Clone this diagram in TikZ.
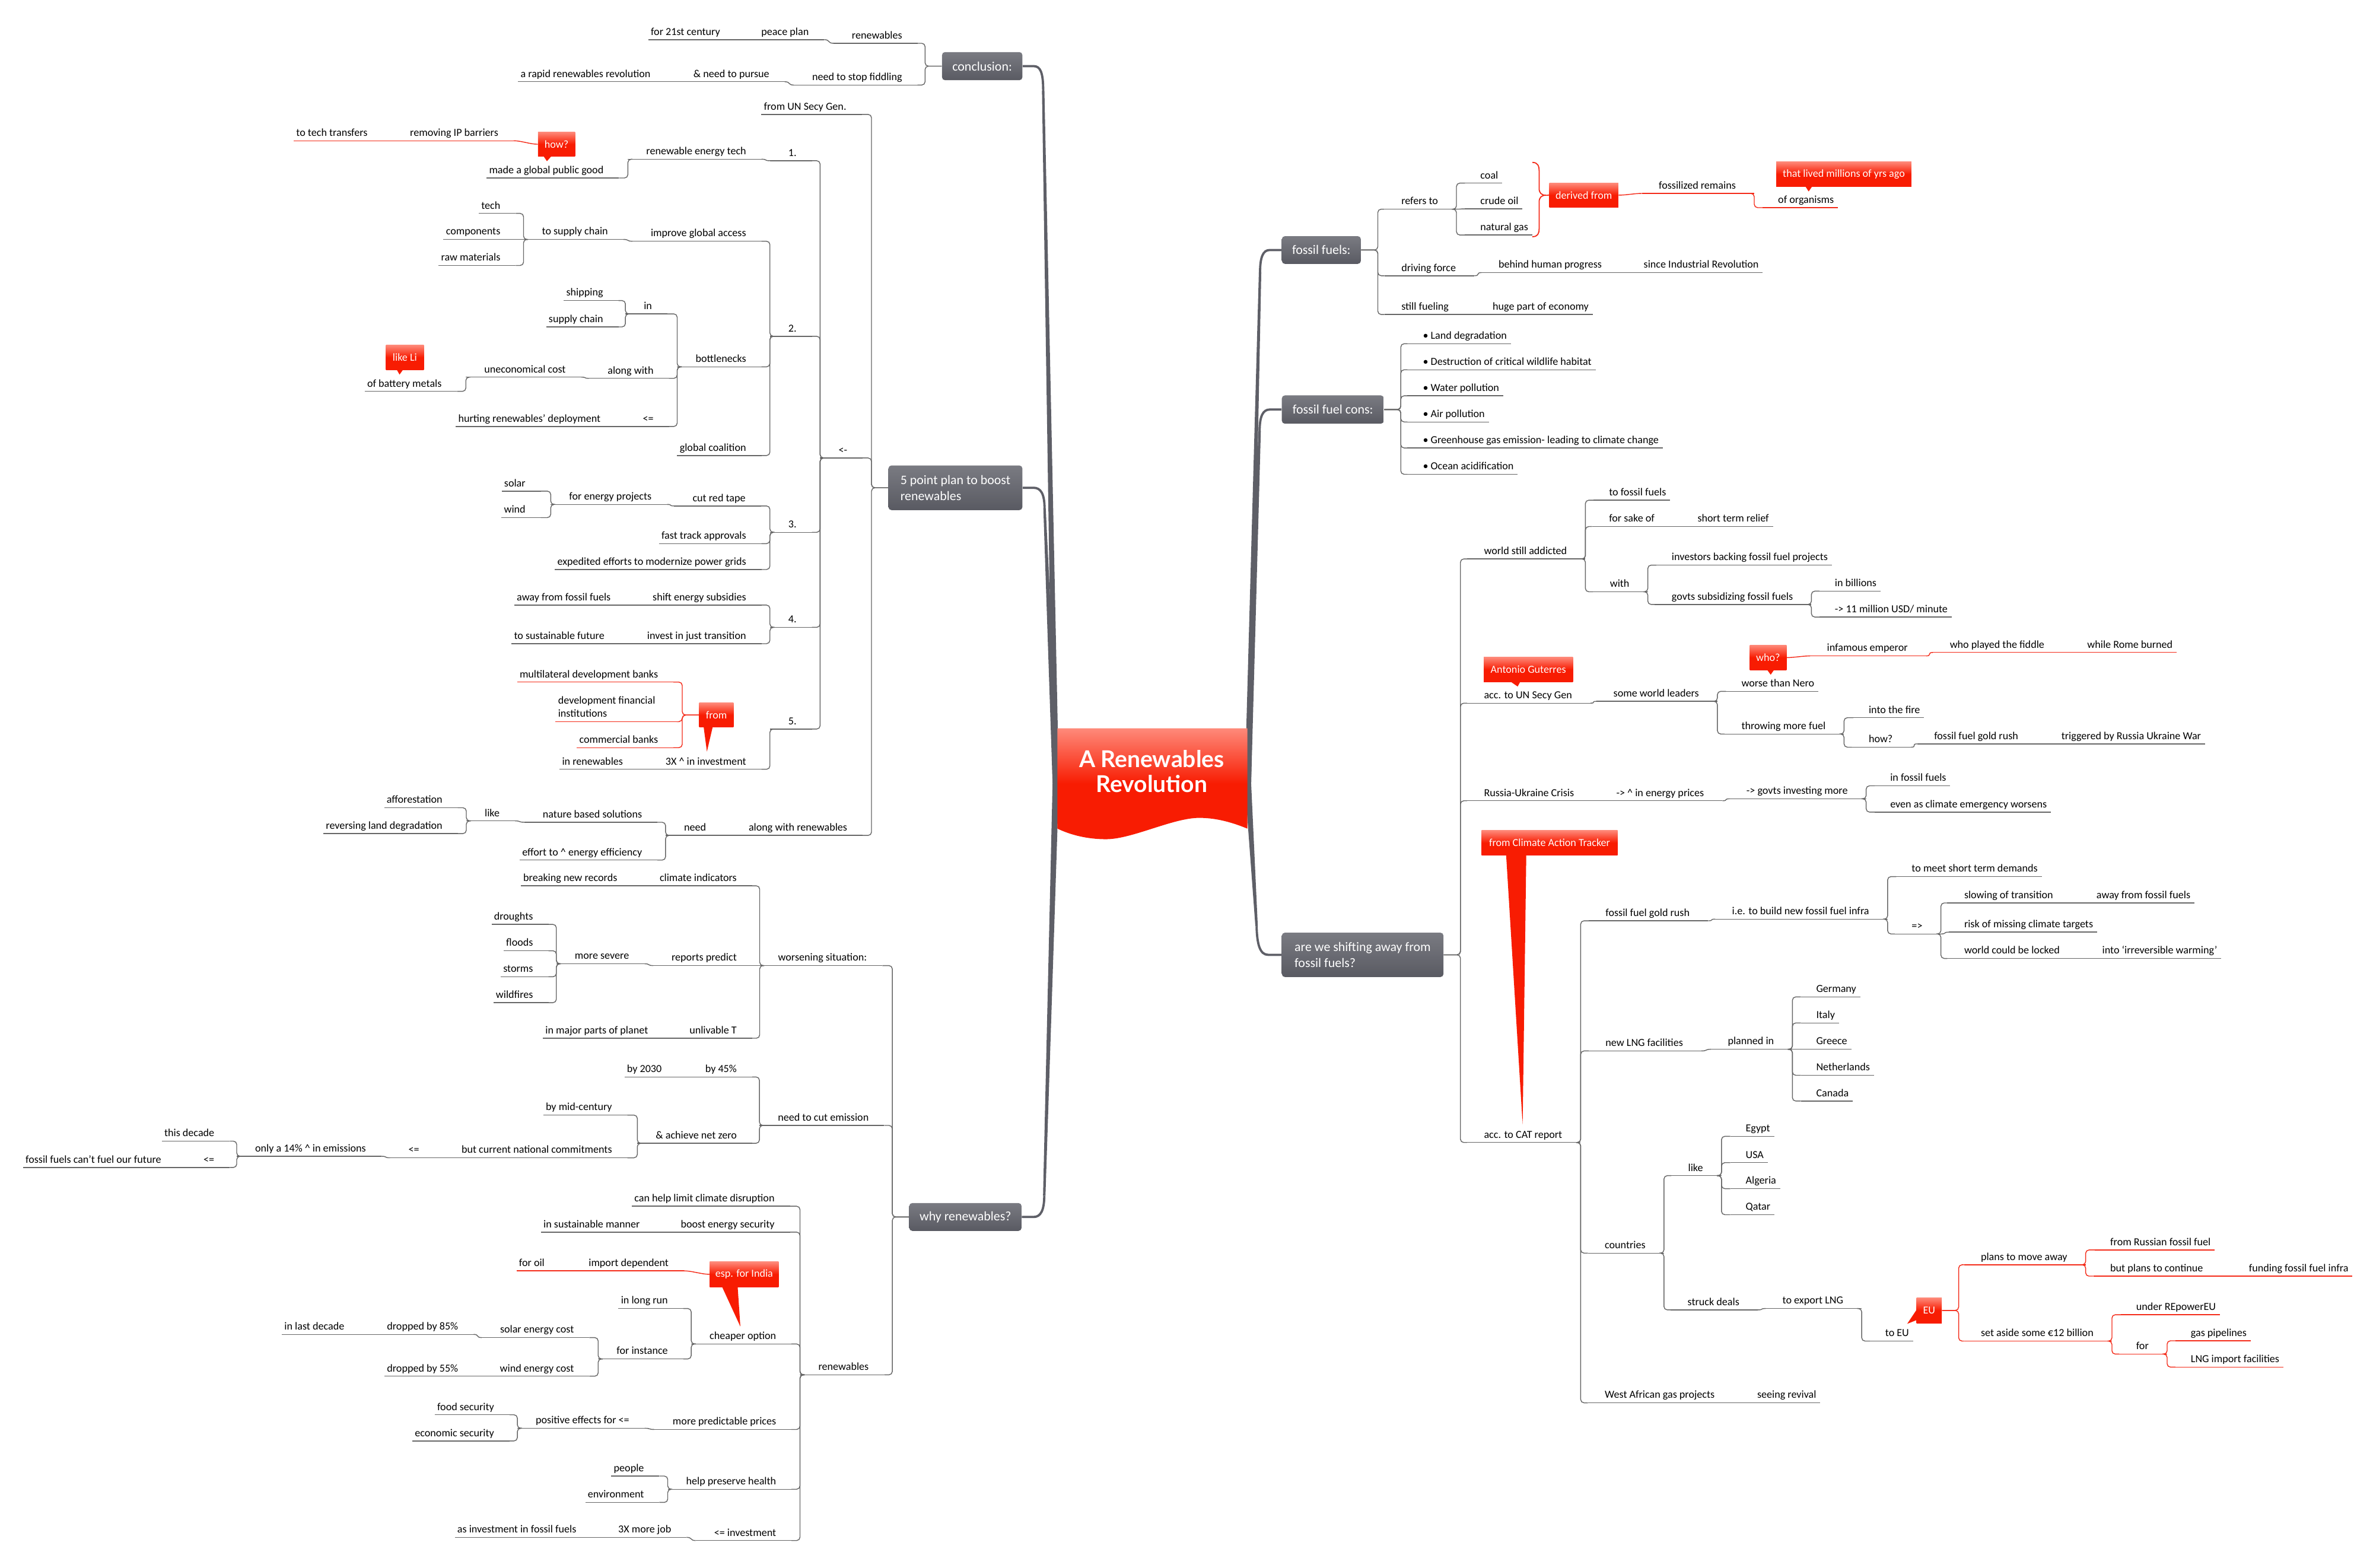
\documentclass[tikz,border=0pt]{standalone}
\usepackage{fontspec}
\setmainfont{Carlito}
\newfontfamily\titlefont{Lato}
\usetikzlibrary{calc}
\pgfdeclarelayer{bg}
\pgfsetlayers{bg,main}
\definecolor{lg}{HTML}{666666}
\definecolor{rd}{HTML}{F42A18}
\definecolor{trunkc}{HTML}{5E5F67}
\definecolor{boxtop}{HTML}{7A7B82}
\definecolor{boxbot}{HTML}{595A62}
\definecolor{redtop}{HTML}{FE8A7A}
\definecolor{redbot}{HTML}{F81C02}
\newcommand\fsz{\fontsize{7.1}{8.8}\selectfont}
\newcommand\fbx{\fontsize{8.6}{10.6}\selectfont}
\newcommand\lkL[3][lg]{\draw[cn,draw=#1] ($(#2.south west)+(3,0)$) -- (#2.south west) |- (#3.south east);}
\newcommand\lkLs[3][lg]{\draw[cn,draw=#1] (#2.south west) .. controls +(-4,0) and +(4,0) .. (#3.south east);}
\newcommand\lkR[3][lg]{\draw[cn,draw=#1] ($(#2.south east)+(-3,0)$) -- (#2.south east) |- (#3.south west);}
\newcommand\lkRs[3][lg]{\draw[cn,draw=#1] (#2.south east) .. controls +(4,0) and +(-4,0) .. (#3.south west);}
\newcommand\lkBL[3][lg]{\draw[cn,draw=#1] (#2.west) -- ++(-11,0) |- (#3.south east);}
\newcommand\lkBR[3][lg]{\draw[cn,draw=#1] (#2.east) -- ++(11,0) |- (#3.south west);}
\tikzset{
 base/.style={inner xsep=0pt, inner ysep=1.1pt, text height=5.1pt, text depth=1.7pt, font=\fsz},
 ul/.style={append after command={(\tikzlastnode.south west) edge[draw=#1,line width=.55pt] (\tikzlastnode.south east)}},
 ln/.style={base, anchor=south east, xshift=10pt, execute at begin node={\hspace*{12pt}}, execute at end node={\hspace*{10pt}}, ul=#1},
 ln/.default=lg,
 lf/.style={base, anchor=south east, xshift=10pt, execute at begin node={\hspace*{1.5pt}}, execute at end node={\hspace*{10pt}}, ul=#1},
 lf/.default=lg,
 rn/.style={base, anchor=south west, xshift=-11pt, execute at begin node={\hspace*{11pt}}, execute at end node={\hspace*{12pt}}, ul=#1},
 rn/.default=lg,
 rf/.style={base, anchor=south west, xshift=-10pt, execute at begin node={\hspace*{10pt}}, execute at end node={\hspace*{2.5pt}}, ul=#1},
 rf/.default=lg,
 cn/.style={line width=.55pt, rounded corners=2.2pt},
 mbox/.style={rounded corners=2pt, top color=boxtop, bottom color=boxbot, text=white, font=\fbx, inner xsep=6pt, inner ysep=0pt, align=left},
 co/.style={inner sep=0pt, top color=redtop, bottom color=redbot, middle color=redbot, text=white, font=\fsz},
 trk/.style={draw=trunkc, line width=1.5pt},
}
\begin{document}
\begin{tikzpicture}[x=1pt,y=-1pt]
\useasboundingbox (0,0) rectangle (1568,1035.7);
\begin{pgfonlayer}{bg}
\fill[white] (0,0) rectangle (1568,1035.7);
\end{pgfonlayer}

% ---------- main boxes ----------
\node[mbox, minimum width=53.1pt, minimum height=18.6pt] (bconc) at (649,43.7) {conclusion:};
\node[mbox, minimum width=88.5pt, minimum height=29.5pt] (b5) at (631.3,322.3) {5 point plan to boost\\renewables};
\node[mbox, minimum width=74.2pt, minimum height=18.4pt] (bwhy) at (637.9,804.1) {why renewables?};
\node[mbox, minimum width=52.2pt, minimum height=18.3pt] (bff) at (873.1,165.2) {fossil fuels:};
\node[mbox, minimum width=67.4pt, minimum height=18.7pt] (bcons) at (880.7,270.6) {fossil fuel cons:};
\node[mbox, minimum width=106.8pt, minimum height=29.3pt] (bshift) at (900.4,630.9) {are we shifting away from\\fossil fuels?};

% ---------- trunks ----------
\coordinate (cL) at (697.6,517.5);
\coordinate (cR) at (824.6,517.5);
\begin{pgfonlayer}{bg}
\draw[trk] (bconc.east) -- (683,43.7) .. controls (687.5,43.7) and (689.3,48) .. (689.3,60);
\fill[trunkc] (688.5,60) -- ($(cL)+(-2.1,0)$) -- ($(cL)+(2.1,0)$) -- (690.1,60) -- cycle;
\draw[trk] (b5.east) -- (683,322.3) .. controls (687.5,322.3) and (690.2,326) .. (690.2,336);
\fill[trunkc] (689.4,336) -- ($(cL)+(-2.1,0)$) -- ($(cL)+(2.1,0)$) -- (691,336) -- cycle;
\draw[trk] (bwhy.east) -- (683,804.1) .. controls (687.5,804.1) and (690,800) .. (690,790);
\fill[trunkc] (689.2,790) -- ($(cL)+(-2.1,0)$) -- ($(cL)+(2.1,0)$) -- (690.8,790) -- cycle;
\draw[trk] (bff.west) -- (839,165.2) .. controls (834.5,165.2) and (832.6,170) .. (832.6,180);
\fill[trunkc] (831.8,180) -- ($(cR)+(-2.1,0)$) -- ($(cR)+(2.1,0)$) -- (833.4,180) -- cycle;
\draw[trk] (bcons.west) -- (839,270.6) .. controls (834.5,270.6) and (832.3,275) .. (832.3,285);
\fill[trunkc] (831.5,285) -- ($(cR)+(-2.1,0)$) -- ($(cR)+(2.1,0)$) -- (833.1,285) -- cycle;
\draw[trk] (bshift.west) -- (838,630.9) .. controls (832.5,630.9) and (830.6,624) .. (830.3,612);
\fill[trunkc] (829.5,612) -- ($(cR)+(-2.1,0)$) -- ($(cR)+(2.1,0)$) -- (831.1,612) -- cycle;
\end{pgfonlayer}

% ---------- center ----------
\shade[top color=redtop, bottom color=redbot, middle color=redbot]
 (698.7,481.2) -- (824.2,481.2) -- (824.2,547.5)
 .. controls (812,542.5) and (802,540.4) .. (792.4,540.4)
 .. controls (775,540.4) and (748,554.5) .. (730.9,554.5)
 .. controls (718,554.5) and (707,551.5) .. (698.7,547.5) -- cycle;
\node[font=\titlefont\bfseries\fontsize{15.3}{18}\selectfont, text=white, anchor=base, inner sep=0pt] (t1) at (761,507) {A Renewables};
\node[font=\titlefont\bfseries\fontsize{15.3}{18}\selectfont, text=white, anchor=base, inner sep=0pt] (t2) at (761,523.5) {Revolution};

% ---------- conclusion ----------
\node[ln] (c1) at (596.3,28.6) {renewables};
\node[ln] (c1a) at (534.6,26.2) {peace plan};
\node[lf] (c1b) at (476,26.2) {for 21st century};
\node[ln] (c2) at (596.3,56.2) {need to stop fiddling};
\node[ln] (c2a) at (508.5,54) {\& need to pursue};
\node[lf] (c2b) at (430,54) {a rapid renewables revolution};

% ---------- 5 point plan ----------
\node[lf] (p0) at (559.4,75.6) {from UN Secy Gen.};
\node[ln] (p1) at (560,302.6) {<-};
\node[ln] (p2) at (560,552) {along with renewables};
\node[ln] (n1) at (526.5,106.2) {1.};
\node[ln] (n1a) at (493.2,105.2) {renewable energy tech};
\node[lf] (n1b) at (399,117.6) {made a global public good};
\node[ln=rd] (n1c) at (329.4,93) {removing IP barriers};
\node[lf=rd] (n1d) at (243,93) {to tech transfers};
\node[ln] (n2) at (526.5,222.2) {2.};
\node[ln] (n2a) at (493.2,159.4) {improve global access};
\node[ln] (n2b) at (401.9,158.2) {to supply chain};
\node[lf] (n2c) at (330.8,141) {tech};
\node[lf] (n2d) at (330.8,158.2) {components};
\node[lf] (n2e) at (330.8,175.4) {raw materials};
\node[ln] (n2f) at (493.2,242.4) {bottlenecks};
\node[ln] (n2g) at (431,207.4) {in};
\node[lf] (n2h) at (398.7,198.6) {shipping};
\node[lf] (n2i) at (398.7,216) {supply chain};
\node[ln] (n2j) at (432,250) {along with};
\node[ln] (n2k) at (374,249.2) {uneconomical cost};
\node[lf] (n2l) at (292,258.6) {of battery metals};
\node[ln] (n2m) at (432,281.8) {<=};
\node[lf] (n2n) at (397,281.8) {hurting renewables' deployment};
\node[lf] (n2o) at (493.2,301) {global coalition};
\node[ln] (n3) at (526.5,351.7) {3.};
\node[ln] (n3a) at (492.8,334.3) {cut red tape};
\node[ln] (n3b) at (430.7,333.3) {for energy projects};
\node[lf] (n3c) at (347.4,324.5) {solar};
\node[lf] (n3d) at (347.4,342) {wind};
\node[lf] (n3e) at (493.2,359.2) {fast track approvals};
\node[lf] (n3f) at (493.2,376.3) {expedited efforts to modernize power grids};
\node[ln] (n4) at (526.5,414.5) {4.};
\node[ln] (n4a) at (493.2,399.8) {shift energy subsidies};
\node[lf] (n4b) at (403.7,399.8) {away from fossil fuels};
\node[ln] (n4c) at (493.2,425.3) {invest in just transition};
\node[lf] (n4d) at (399.6,425.3) {to sustainable future};
\node[ln] (n5) at (526.5,481.7) {5.};
\node[ln] (n5a) at (493.2,508.3) {3X \textasciicircum{} in investment};
\node[lf] (n5b) at (411.8,508.3) {in renewables};
\node[lf=rd] (n5c) at (435,450.7) {multilateral development banks};
\node[lf=rd] (n5d) at (439,476.8) {\parbox[b]{70pt}{\raggedright\fsz development financial\\institutions}};
\node[lf=rd] (n5e) at (435,494) {commercial banks};
\node[ln] (p2a) at (466.7,552) {need};
\node[ln] (p2b) at (424.4,543.3) {nature based solutions};
\node[ln] (p2c) at (330.3,542.4) {like};
\node[lf] (p2d) at (292.5,533.7) {afforestation};
\node[lf] (p2e) at (292.5,550.8) {reversing land degradation};
\node[lf] (p2f) at (424.4,568.3) {effort to \textasciicircum{} energy efficiency};

% ---------- why renewables ----------
\node[ln] (w1) at (573,638) {worsening situation:};
\node[ln] (w1a) at (487,585.3) {climate indicators};
\node[lf] (w1b) at (408,585.3) {breaking new records};
\node[ln] (w1c) at (487,638) {reports predict};
\node[ln] (w1d) at (415.8,636.8) {more severe};
\node[lf] (w1e) at (352.4,610.8) {droughts};
\node[lf] (w1f) at (352.4,628.2) {floods};
\node[lf] (w1g) at (352.4,645.4) {storms};
\node[lf] (w1h) at (352.4,662.5) {wildfires};
\node[ln] (w1i) at (487,686) {unlivable T};
\node[lf] (w1j) at (428.4,686) {in major parts of planet};
\node[ln] (w2) at (574.2,743.6) {need to cut emission};
\node[ln] (w2a) at (487,711.6) {by 45\%};
\node[lf] (w2b) at (437.4,711.6) {by 2030};
\node[ln] (w2c) at (487,755.4) {\& achieve net zero};
\node[lf] (w2d) at (404.6,736.8) {by mid-century};
\node[ln] (w2e) at (404.6,765) {but current national commitments};
\node[ln] (w2f) at (277.2,765) {<=};
\node[ln] (w2g) at (242,764) {only a 14\% \textasciicircum{} in emissions};
\node[lf] (w2h) at (141.8,754) {this decade};
\node[ln] (w2i) at (141.8,771.4) {<=};
\node[lf] (w2j) at (106.7,771.4) {fossil fuels can't fuel our future};
\node[ln] (w3) at (574.2,908.4) {renewables};
\node[lf] (w3a) at (512,797) {can help limit climate disruption};
\node[ln] (w3b) at (512,814.1) {boost energy security};
\node[lf] (w3c) at (423,814.1) {in sustainable manner};
\node[ln] (w3d) at (513,888) {cheaper option};
\node[ln=rd] (w3e) at (442,839.7) {import dependent};
\node[lf=rd] (w3f) at (360,839.7) {for oil};
\node[lf] (w3g) at (441.5,864.6) {in long run};
\node[ln] (w3h) at (441.5,897.9) {for instance};
\node[ln] (w3i) at (379.4,883.8) {solar energy cost};
\node[ln] (w3j) at (302.9,881.7) {dropped by 85\%};
\node[lf] (w3k) at (227.7,881.7) {in last decade};
\node[ln] (w3l) at (379.4,909.3) {wind energy cost};
\node[lf] (w3m) at (302.9,909.3) {dropped by 55\%};
\node[ln] (w3n) at (513,944.5) {more predictable prices};
\node[ln] (w3o) at (416,943.7) {positive effects for <=};
\node[lf] (w3p) at (326.7,934.8) {food security};
\node[lf] (w3q) at (326.7,952.1) {economic security};
\node[ln] (w3r) at (513,984) {help preserve health};
\node[lf] (w3s) at (425.7,975.3) {people};
\node[lf] (w3t) at (425.7,992.7) {environment};
\node[ln] (w3u) at (513,1017.9) {<= investment};
\node[ln] (w3v) at (443.7,1015.8) {3X more job};
\node[lf] (w3w) at (381,1015.8) {as investment in fossil fuels};

% ---------- fossil fuels ----------
\node[rn] (f1) at (925.8,138.2) {refers to};
\node[rf] (f1a) at (978,121) {coal};
\node[rf] (f1b) at (978,138) {crude oil};
\node[rf] (f1c) at (978,155.3) {natural gas};
\node[rn=rd] (f1d) at (1095.9,127.8) {fossilized remains};
\node[rf=rd] (f1e) at (1174.7,137.2) {of organisms};
\node[rn] (f2) at (925.8,182.2) {driving force};
\node[rn] (f2a) at (990,180.1) {behind human progress};
\node[rf] (f2b) at (1085.9,180.1) {since Industrial Revolution};
\node[rn] (f3) at (925.8,207.8) {still fueling};
\node[rf] (f3a) at (986.1,207.8) {huge part of economy};

% ---------- fossil fuel cons ----------
\node[rf] (g1) at (940,227.1) {• Land degradation};
\node[rf] (g2) at (940,244.3) {• Destruction of critical wildlife habitat};
\node[rf] (g3) at (940,261.5) {• Water pollution};
\node[rf] (g4) at (940,278.8) {• Air pollution};
\node[rf] (g5) at (940,296) {• Greenhouse gas emission- leading to climate change};
\node[rf] (g6) at (940,313.4) {• Ocean acidification};

% ---------- are we shifting ----------
\node[rn] (s1) at (980.4,369.3) {world still addicted};
\node[rf] (s1a) at (1063,330.5) {to fossil fuels};
\node[rn] (s1b) at (1063,347.9) {for sake of};
\node[rf] (s1c) at (1121.5,347.9) {short term relief};
\node[rn] (s1d) at (1063.6,391) {with};
\node[rf] (s1e) at (1104.4,373.4) {investors backing fossil fuel projects};
\node[rn] (s1f) at (1104.4,399.4) {govts subsidizing fossil fuels};
\node[rf] (s1g) at (1212.2,390.6) {in billions};
\node[rf] (s1h) at (1212.2,407.7) {-> 11 million USD/ minute};
\node[rn] (s2) at (980.4,464.6) {acc. to UN Secy Gen};
\node[rn] (s2a) at (1065.9,463.4) {some world leaders};
\node[rf] (s2b) at (1150.5,456.8) {worse than Nero};
\node[rn=rd] (s2c) at (1207,433.4) {infamous emperor};
\node[rn=rd] (s2d) at (1288.2,431.1) {who played the fiddle};
\node[rf=rd] (s2e) at (1379,431.1) {while Rome burned};
\node[rn] (s2f) at (1150.5,485) {throwing more fuel};
\node[rf] (s2g) at (1234.6,474.2) {into the fire};
\node[rn] (s2h) at (1234.6,493.7) {how?};
\node[rn] (s2i) at (1277.8,491.5) {fossil fuel gold rush};
\node[rf] (s2j) at (1361.9,491.5) {triggered by Russia Ukraine War};
\node[rn] (s3) at (980.4,529.1) {Russia-Ukraine Crisis};
\node[rn] (s3a) at (1067.8,529.1) {-> \textasciicircum{} in energy prices};
\node[rn] (s3b) at (1153.8,527.8) {-> govts investing more};
\node[rf] (s3c) at (1248.8,519.2) {in fossil fuels};
\node[rf] (s3d) at (1248.8,536.6) {even as climate emergency worsens};
\node[rn] (s4) at (980.4,754.9) {acc. to CAT report};
\node[rn] (s4a) at (1060.7,608.4) {fossil fuel gold rush};
\node[rn] (s4b) at (1144.3,607.3) {i.e. to build new fossil fuel infra};
\node[rf] (s4c) at (1263,579.2) {to meet short term demands};
\node[rn] (s4d) at (1263,617.1) {=>};
\node[rn] (s4e) at (1297.7,596.6) {slowing of transition};
\node[rf] (s4f) at (1385.1,596.6) {away from fossil fuels};
\node[rf] (s4g) at (1297.7,615.9) {risk of missing climate targets};
\node[rn] (s4h) at (1297.7,633.3) {world could be locked};
\node[rf] (s4i) at (1388.9,633.3) {into `irreversible warming'};
\node[rn] (s4j) at (1060.7,694.4) {new LNG facilities};
\node[rn] (s4k) at (1141.5,693.3) {planned in};
\node[rf] (s4l) at (1199.9,658.7) {Germany};
\node[rf] (s4m) at (1199.9,675.9) {Italy};
\node[rf] (s4n) at (1199.9,693.3) {Greece};
\node[rf] (s4o) at (1199.9,710.5) {Netherlands};
\node[rf] (s4p) at (1199.9,727.5) {Canada};
\node[rn] (s4q) at (1060.2,828) {countries};
\node[rn] (s4r) at (1115.3,776.8) {like};
\node[rf] (s4s) at (1153.3,750.8) {Egypt};
\node[rf] (s4t) at (1153.3,768.2) {USA};
\node[rf] (s4u) at (1153.3,785.4) {Algeria};
\node[rf] (s4v) at (1153.3,802.6) {Qatar};
\node[rn] (s4w) at (1114.9,865.5) {struck deals};
\node[rn] (s4x) at (1177.6,864.6) {to export LNG};
\node[rf] (s4y) at (1245.5,886.1) {to EU};
\node[rn=rd] (s4z) at (1308.7,835.7) {plans to move away};
\node[rf=rd] (s4z1) at (1394.2,825.9) {from Russian fossil fuel};
\node[rn=rd] (s4z2) at (1394.2,843.2) {but plans to continue};
\node[rf=rd] (s4z3) at (1485.8,843.2) {funding fossil fuel infra};
\node[rn=rd] (s4z4) at (1308.7,886.1) {set aside some €12 billion};
\node[rf=rd] (s4z5) at (1411.3,868.7) {under REpowerEU};
\node[rn=rd] (s4z6) at (1411.3,894.7) {for};
\node[rf=rd] (s4z7) at (1447.4,885.9) {gas pipelines};
\node[rf=rd] (s4z8) at (1447.4,903.3) {LNG import facilities};
\node[rn] (s5) at (1060.2,926.9) {West African gas projects};
\node[rf] (s5a) at (1160.9,926.9) {seeing revival};

% ---------- callouts (tails first) ----------
\fill[redbot] (359,103) -- (361.4,106.5) -- (364.5,103) -- cycle;
\fill[redbot] (262,244) -- (264,247.5) -- (266.5,244) -- cycle;
\fill[redbot] (464.9,480) -- (467.1,496.6) -- (471,480) -- cycle;
\fill[redbot] (477,850) -- (489.2,876.5) -- (487.4,850) -- cycle;
\fill[redbot] (1192.8,123) -- (1195.1,126.5) -- (1197.5,123) -- cycle;
\fill[redbot] (1167.6,442.5) -- (1170,445.8) -- (1172.3,442.5) -- cycle;
\fill[redbot] (998,450.3) -- (1002.8,453.6) -- (1004.6,450.3) -- cycle;
\fill[redbot] (995.2,565) -- (1006.1,743) -- (1008.5,565) -- cycle;
\fill[redbot] (1268,863) -- (1260.2,874.7) -- (1267,872) -- cycle;
\node[co, minimum width=24.5pt, minimum height=16.2pt] (how) at (367.75,95.3) {how?};
\node[co, minimum width=25pt, minimum height=16.4pt] (li) at (267.5,236.2) {like Li};
\node[co, minimum width=22.7pt, minimum height=16.1pt] (fromc) at (473.35,472.45) {from};
\node[co, minimum width=45.4pt, minimum height=16.6pt] (esp) at (491.7,842) {esp. for India};
\node[co, minimum width=45.6pt, minimum height=15.9pt] (derived) at (1046.5,128.95) {derived from};
\node[co, minimum width=89.3pt, minimum height=16.6pt] (lived) at (1218.35,115.1) {that lived millions of yrs ago};
\node[co, minimum width=24.2pt, minimum height=16.6pt] (who) at (1168.3,434.5) {who?};
\node[co, minimum width=58.9pt, minimum height=16.4pt] (ag) at (1009.85,442.4) {Antonio Guterres};
\node[co, minimum width=89.8pt, minimum height=16.6pt] (cat) at (1023.9,556.9) {from Climate Action Tracker};
\node[co, minimum width=16.6pt, minimum height=16.7pt] (eu) at (1274.7,865.85) {EU};

% summary brace
\draw[rd, line width=.7pt] (1012.5,107.3) .. controls (1016,107.3) and (1017,109.5) .. (1017,113) -- (1017,124.5) .. controls (1017,127.5) and (1018.5,129) .. (1021.5,129) .. controls (1018.5,129) and (1017,130.5) .. (1017,133.5) -- (1017,151) .. controls (1017,154.5) and (1016,156.4) .. (1012.5,156.4);
\draw[rd, line width=.6pt] (1021.5,129) -- (derived.west);

% ---------- connectors: left ----------
\lkBL{bconc}{c1} \lkBL{bconc}{c2}
\lkLs{c1}{c1a} \lkLs{c1a}{c1b} \lkLs{c2}{c2a} \lkLs{c2a}{c2b}
\lkBL{b5}{p0} \lkBL{b5}{p1} \lkBL{b5}{p2}
\lkL{p1}{n1} \lkL{p1}{n2} \lkL{p1}{n3} \lkL{p1}{n4} \lkL{p1}{n5}
\lkLs{n1}{n1a} \lkL{n1a}{n1b}
\draw[cn,draw=rd] (how.west) .. controls +(-5,0) and +(5,0) .. (n1c.south east);
\lkLs[rd]{n1c}{n1d}
\lkL{n2}{n2a} \lkL{n2}{n2f} \lkL{n2}{n2o}
\lkLs{n2a}{n2b}
\lkL{n2b}{n2c} \lkLs{n2b}{n2d} \lkL{n2b}{n2e}
\lkL{n2f}{n2g} \lkL{n2f}{n2j} \lkL{n2f}{n2m}
\lkL{n2g}{n2h} \lkL{n2g}{n2i}
\lkLs{n2j}{n2k} \lkL{n2k}{n2l} \lkLs{n2m}{n2n}
\lkL{n3}{n3a} \lkL{n3}{n3e} \lkL{n3}{n3f}
\lkLs{n3a}{n3b} \lkL{n3b}{n3c} \lkL{n3b}{n3d}
\lkL{n4}{n4a} \lkL{n4}{n4c} \lkLs{n4a}{n4b} \lkLs{n4c}{n4d}
\lkL{n5}{n5a} \lkLs{n5a}{n5b}
\lkBL[rd]{fromc}{n5c} \lkBL[rd]{fromc}{n5d} \lkBL[rd]{fromc}{n5e}
\lkLs{p2}{p2a} \lkL{p2a}{p2b} \lkL{p2a}{p2f} \lkLs{p2b}{p2c} \lkL{p2c}{p2d} \lkL{p2c}{p2e}
\lkBL{bwhy}{w1} \lkBL{bwhy}{w2} \lkBL{bwhy}{w3}
\lkL{w1}{w1a} \lkLs{w1}{w1c} \lkL{w1}{w1i}
\lkLs{w1a}{w1b} \lkLs{w1c}{w1d}
\lkL{w1d}{w1e} \lkL{w1d}{w1f} \lkL{w1d}{w1g} \lkL{w1d}{w1h}
\lkLs{w1i}{w1j}
\lkL{w2}{w2a} \lkL{w2}{w2c} \lkLs{w2a}{w2b} \lkL{w2c}{w2d} \lkL{w2c}{w2e}
\lkLs{w2e}{w2f} \lkLs{w2f}{w2g} \lkL{w2g}{w2h} \lkL{w2g}{w2i} \lkLs{w2i}{w2j}
\lkL{w3}{w3a} \lkL{w3}{w3b} \lkL{w3}{w3d} \lkL{w3}{w3n} \lkL{w3}{w3r} \lkL{w3}{w3u}
\lkLs{w3b}{w3c}
\draw[cn,draw=rd] (esp.west) .. controls +(-5,0) and +(5,0) .. (w3e.south east);
\lkLs[rd]{w3e}{w3f}
\lkL{w3d}{w3g} \lkL{w3d}{w3h} \lkL{w3h}{w3i} \lkL{w3h}{w3l}
\lkLs{w3i}{w3j} \lkLs{w3j}{w3k} \lkLs{w3l}{w3m}
\lkLs{w3n}{w3o} \lkL{w3o}{w3p} \lkL{w3o}{w3q}
\lkL{w3r}{w3s} \lkL{w3r}{w3t}
\lkLs{w3u}{w3v} \lkLs{w3v}{w3w}

% ---------- connectors: right ----------
\lkBR{bff}{f1} \lkBR{bff}{f2} \lkBR{bff}{f3}
\lkR{f1}{f1a} \lkRs{f1}{f1b} \lkR{f1}{f1c}
\draw[cn,draw=rd] (derived.east) .. controls +(5,0) and +(-5,0) .. (f1d.south west);
\lkR[rd]{f1d}{f1e}
\lkRs{f2}{f2a} \lkRs{f2a}{f2b} \lkRs{f3}{f3a}
\lkBR{bcons}{g1} \lkBR{bcons}{g2} \lkBR{bcons}{g3} \lkBR{bcons}{g4} \lkBR{bcons}{g5} \lkBR{bcons}{g6}
\lkBR{bshift}{s1} \lkBR{bshift}{s2} \lkBR{bshift}{s3} \lkBR{bshift}{s4}
\lkR{s1}{s1a} \lkR{s1}{s1b} \lkR{s1}{s1d} \lkRs{s1b}{s1c}
\lkR{s1d}{s1e} \lkR{s1d}{s1f} \lkR{s1f}{s1g} \lkR{s1f}{s1h}
\lkRs{s2}{s2a} \lkR{s2a}{s2b} \lkR{s2a}{s2f}
\draw[cn,draw=rd] (who.east) .. controls +(5,0) and +(-5,0) .. (s2c.south west);
\lkRs[rd]{s2c}{s2d} \lkRs[rd]{s2d}{s2e}
\lkR{s2f}{s2g} \lkR{s2f}{s2h} \lkRs{s2h}{s2i} \lkRs{s2i}{s2j}
\lkRs{s3}{s3a} \lkRs{s3a}{s3b} \lkR{s3b}{s3c} \lkR{s3b}{s3d}
\lkR{s4}{s4a} \lkR{s4}{s4j} \lkR{s4}{s4q} \lkR{s4}{s5}
\lkRs{s4a}{s4b} \lkR{s4b}{s4c} \lkR{s4b}{s4d}
\lkR{s4d}{s4e} \lkRs{s4d}{s4g} \lkR{s4d}{s4h} \lkRs{s4e}{s4f} \lkRs{s4h}{s4i}
\lkRs{s4j}{s4k} \lkR{s4k}{s4l} \lkR{s4k}{s4m} \lkRs{s4k}{s4n} \lkR{s4k}{s4o} \lkR{s4k}{s4p}
\lkR{s4q}{s4r} \lkR{s4q}{s4w}
\lkR{s4r}{s4s} \lkR{s4r}{s4t} \lkR{s4r}{s4u} \lkR{s4r}{s4v}
\lkRs{s4w}{s4x} \lkR{s4x}{s4y}
\lkBR[rd]{eu}{s4z} \lkBR[rd]{eu}{s4z4}
\lkR[rd]{s4z}{s4z1} \lkR[rd]{s4z}{s4z2} \lkRs[rd]{s4z2}{s4z3}
\lkR[rd]{s4z4}{s4z5} \lkR[rd]{s4z4}{s4z6} \lkR[rd]{s4z6}{s4z7} \lkR[rd]{s4z6}{s4z8}
\lkRs{s5}{s5a}
\end{tikzpicture}
\end{document}
